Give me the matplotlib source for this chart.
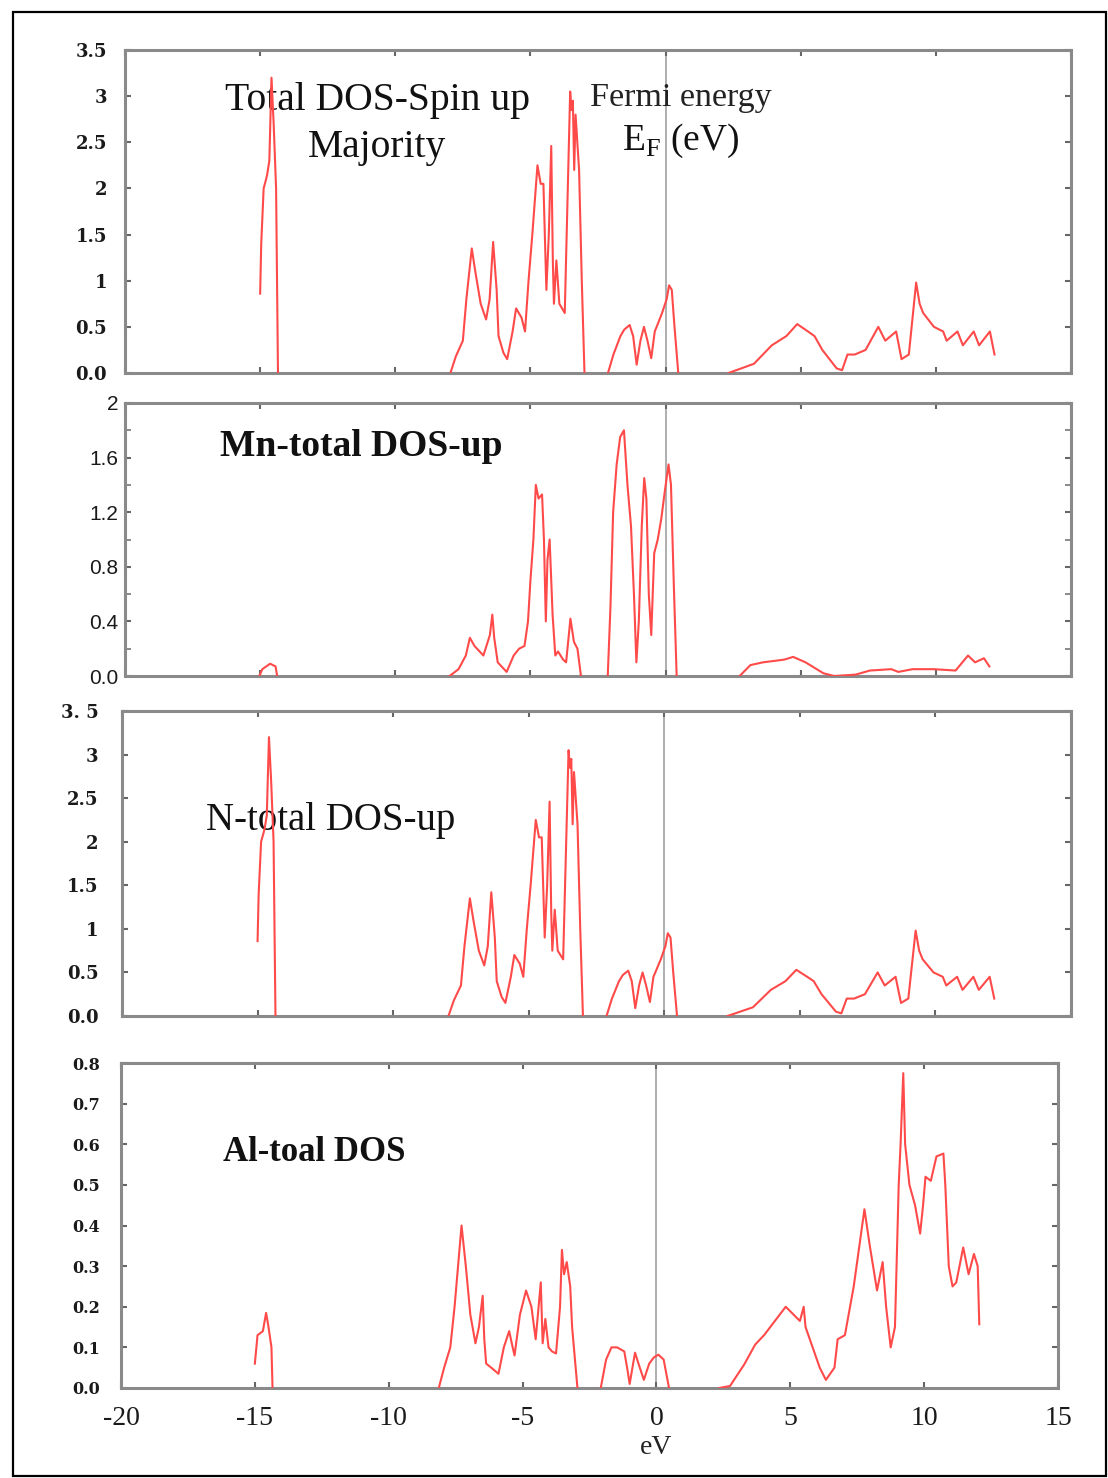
import matplotlib
matplotlib.use('Agg')
import matplotlib.pyplot as plt
from matplotlib.patches import Rectangle
from matplotlib.ticker import MultipleLocator

nan = float('nan')

# ---------------- data (energy in eV, DOS) ----------------
total_energy = [-15.0, -14.96, -14.87, -14.78, -14.74, -14.66, -14.58, -14.5, -14.41, -14.34, nan,
                -7.96, -7.76, -7.5, -7.37, -7.17, -7.04, -6.84, -6.64, -6.51, -6.38,
                -6.25, -6.18, -6.0, -5.86, -5.66, -5.53, -5.33, -5.2, -5.07, -4.93,
                -4.74, -4.62, -4.52, -4.41, -4.32, -4.23, -4.17, -4.13, -4.04, -3.93,
                -3.73, -3.53, -3.48, -3.43, -3.38, -3.33, -3.2, -3.1, -3.0, nan,
                -2.13, -1.93, -1.67, -1.53, -1.33, -1.2, -1.07, -0.93, -0.8, -0.67,
                -0.53, -0.4, -0.33, -0.13, 0.04, 0.13, 0.23, 0.33, 0.47, nan,
                2.33, 3.27, 3.93, 4.47, 4.87, 5.27, 5.51, 5.8, 6.33, 6.53,
                6.73, 7.0, 7.4, 7.87, 8.13, 8.53, 8.73, 9.0, 9.27, 9.4,
                9.53, 9.93, 10.27, 10.4, 10.8, 11.0, 11.4, 11.6, 12.0, 12.17]
total_dos = [0.86, 1.4, 2.0, 2.1, 2.15, 2.3, 3.2, 2.7, 2.0, 0.0, nan,
             0.0, 0.18, 0.35, 0.8, 1.35, 1.1, 0.75, 0.58, 0.8, 1.42,
             0.9, 0.4, 0.22, 0.15, 0.45, 0.7, 0.6, 0.45, 1.0, 1.5,
             2.25, 2.05, 2.05, 0.9, 1.5, 2.46, 1.2, 0.75, 1.22, 0.75,
             0.65, 3.05, 2.85, 2.95, 2.2, 2.8, 2.2, 1.0, 0.0, nan,
             0.0, 0.2, 0.4, 0.47, 0.52, 0.4, 0.09, 0.35, 0.5, 0.35,
             0.16, 0.45, 0.5, 0.65, 0.8, 0.95, 0.9, 0.5, 0.0, nan,
             0.0, 0.1, 0.3, 0.4, 0.53, 0.45, 0.4, 0.25, 0.05, 0.03,
             0.2, 0.2, 0.25, 0.5, 0.35, 0.45, 0.15, 0.2, 0.98, 0.75,
             0.65, 0.5, 0.45, 0.35, 0.45, 0.3, 0.45, 0.3, 0.45, 0.2]

mn_energy = [-15.03, -14.92, -14.63, -14.43, -14.37, nan,
             -7.99, -7.66, -7.39, -7.24, -7.07, -6.74, -6.5, -6.41, -6.34, -6.21,
             -5.88, -5.62, -5.42, -5.22, -5.09, -5.0, -4.89, -4.8, -4.7, -4.57,
             -4.5, -4.43, -4.37, -4.29, -4.18, -4.08, -3.98, -3.79, -3.68, -3.52,
             -3.39, -3.26, -3.13, nan,
             -2.14, -2.04, -1.94, -1.81, -1.68, -1.54, -1.41, -1.28, -1.17, -1.08,
             -0.99, -0.88, -0.79, -0.71, -0.62, -0.53, -0.42, -0.29, -0.16, -0.03,
             0.11, 0.2, 0.3, 0.41, nan,
             2.74, 3.14, 3.6, 4.39, 4.72, 5.18, 5.84, 6.24, 7.03, 7.56,
             8.35, 8.61, 9.14, 9.93, 10.73, 11.19, 11.45, 11.78, 11.98]
mn_dos = [0.0, 0.05, 0.09, 0.07, 0.0, nan,
          0.0, 0.05, 0.15, 0.28, 0.22, 0.15, 0.3, 0.45, 0.28, 0.1,
          0.03, 0.15, 0.2, 0.22, 0.4, 0.7, 1.0, 1.4, 1.3, 1.33,
          1.0, 0.4, 0.85, 1.0, 0.45, 0.15, 0.18, 0.12, 0.1, 0.42,
          0.25, 0.2, 0.0, nan,
          0.0, 0.5, 1.2, 1.55, 1.75, 1.8, 1.4, 1.1, 0.6, 0.1,
          0.4, 1.1, 1.45, 1.3, 0.6, 0.3, 0.9, 1.0, 1.15, 1.35,
          1.55, 1.4, 0.7, 0.0, nan,
          0.0, 0.08, 0.1, 0.12, 0.14, 0.1, 0.02, 0.0, 0.01, 0.04,
          0.05, 0.03, 0.05, 0.05, 0.04, 0.15, 0.1, 0.13, 0.07]

n_energy = [-15.0, -14.96, -14.87, -14.78, -14.74, -14.66, -14.58, -14.5, -14.41, -14.34, nan,
            -7.96, -7.76, -7.5, -7.37, -7.17, -7.04, -6.84, -6.64, -6.51, -6.38,
            -6.25, -6.18, -6.0, -5.86, -5.66, -5.53, -5.33, -5.2, -5.07, -4.93,
            -4.74, -4.62, -4.52, -4.41, -4.32, -4.23, -4.17, -4.13, -4.04, -3.93,
            -3.73, -3.53, -3.48, -3.43, -3.38, -3.33, -3.2, -3.1, -3.0, nan,
            -2.13, -1.93, -1.67, -1.53, -1.33, -1.2, -1.07, -0.93, -0.8, -0.67,
            -0.53, -0.4, -0.33, -0.13, 0.04, 0.13, 0.23, 0.33, 0.47, nan,
            2.33, 3.27, 3.93, 4.47, 4.87, 5.27, 5.51, 5.8, 6.33, 6.53,
            6.73, 7.0, 7.4, 7.87, 8.13, 8.53, 8.73, 9.0, 9.27, 9.4,
            9.53, 9.93, 10.27, 10.4, 10.8, 11.0, 11.4, 11.6, 12.0, 12.17]
n_dos = [0.86, 1.4, 2.0, 2.1, 2.15, 2.3, 3.2, 2.7, 2.0, 0.0, nan,
         0.0, 0.18, 0.35, 0.8, 1.35, 1.1, 0.75, 0.58, 0.8, 1.42,
         0.9, 0.4, 0.22, 0.15, 0.45, 0.7, 0.6, 0.45, 1.0, 1.5,
         2.25, 2.05, 2.05, 0.9, 1.5, 2.46, 1.2, 0.75, 1.22, 0.75,
         0.65, 3.05, 2.85, 2.95, 2.2, 2.8, 2.2, 1.0, 0.0, nan,
         0.0, 0.2, 0.4, 0.47, 0.52, 0.4, 0.09, 0.35, 0.5, 0.35,
         0.16, 0.45, 0.5, 0.65, 0.8, 0.95, 0.9, 0.5, 0.0, nan,
         0.0, 0.1, 0.3, 0.4, 0.53, 0.45, 0.4, 0.25, 0.05, 0.03,
         0.2, 0.2, 0.25, 0.5, 0.35, 0.45, 0.15, 0.2, 0.98, 0.75,
         0.65, 0.5, 0.45, 0.35, 0.45, 0.3, 0.45, 0.3, 0.45, 0.2]

al_energy = [-15.0, -14.9, -14.7, -14.58, -14.49, -14.38, -14.34, nan,
             -8.13, -7.93, -7.7, -7.54, -7.28, -7.12, -6.95, -6.76, -6.63, -6.49,
             -6.43, -6.36, -6.17, -5.9, -5.7, -5.5, -5.37, -5.3, -5.1, -4.87,
             -4.67, -4.51, -4.32, -4.25, -4.15, -4.03, -3.9, -3.75, -3.6, -3.53,
             -3.45, -3.35, -3.22, -3.15, -2.95, nan,
             -2.08, -1.88, -1.68, -1.47, -1.2, -1.07, -1.0, -0.8, -0.67, -0.47,
             -0.27, -0.1, 0.07, 0.27, 0.47, nan,
             2.35, 2.75, 3.28, 3.69, 4.02, 4.83, 5.36, 5.5, 5.57, 6.1,
             6.33, 6.65, 6.77, 7.04, 7.37, 7.77, 7.97, 8.24, 8.45, 8.58,
             8.75, 8.91, 9.05, 9.12, 9.22, 9.29, 9.45, 9.66, 9.85, 9.96,
             10.05, 10.25, 10.46, 10.72, 10.79, 10.92, 11.06, 11.2, 11.46, 11.66,
             11.86, 12.0, 12.06]
al_dos = [0.06, 0.13, 0.14, 0.185, 0.15, 0.1, 0.0, nan,
          0.0, 0.05, 0.1, 0.2, 0.4, 0.3, 0.18, 0.11, 0.15, 0.227,
          0.12, 0.06, 0.05, 0.035, 0.1, 0.14, 0.1, 0.08, 0.18, 0.24,
          0.2, 0.12, 0.26, 0.11, 0.17, 0.1, 0.09, 0.085, 0.2, 0.34,
          0.28, 0.31, 0.25, 0.15, 0.0, nan,
          0.0, 0.07, 0.1, 0.1, 0.09, 0.04, 0.01, 0.087, 0.06, 0.02,
          0.06, 0.075, 0.082, 0.07, 0.0, nan,
          0.0, 0.005, 0.058, 0.107, 0.13, 0.2, 0.165, 0.2, 0.15, 0.05,
          0.02, 0.05, 0.12, 0.13, 0.25, 0.44, 0.35, 0.24, 0.31, 0.2,
          0.1, 0.15, 0.5, 0.6, 0.775, 0.6, 0.5, 0.45, 0.38, 0.45,
          0.52, 0.51, 0.57, 0.577, 0.5, 0.3, 0.25, 0.26, 0.346, 0.28,
          0.33, 0.3, 0.157]

x_ticks = [-20, -15, -10, -5, 0, 5, 10, 15]
y1_ticks = [0, 0.5, 1, 1.5, 2, 2.5, 3, 3.5]
y1_labels = ['0.0', '0.5', '1', '1.5', '2', '2.5', '3', '3.5']
y2_ticks = [0, 0.4, 0.8, 1.2, 1.6, 2.0]
y2_labels = ['0.0', '0.4', '0.8', '1.2', '1.6', '2']
y3_labels = ['0.0', '0.5', '1', '1.5', '2', '2.5', '3', '3. 5']
y4_ticks = [0, 0.1, 0.2, 0.3, 0.4, 0.5, 0.6, 0.7, 0.8]
y4_labels = ['0.0', '0.1', '0.2', '0.3', '0.4', '0.5', '0.6', '0.7', '0.8']

# ---------------- figure ----------------
W, H = 1108, 1478
fig = plt.figure(figsize=(W / 100, H / 100), dpi=100)
fig.patch.set_facecolor('white')

def px_axes(l, t, r, b):
    return fig.add_axes([l / W, 1 - b / H, (r - l) / W, (b - t) / H])

RED = '#ff4a4a'
SPINE = '#8a8a8a'
FERMI = '#a8a8a8'
SERIF = ['Liberation Serif', 'DejaVu Serif']

def style(ax, ymax, yticks, ylabels, yfont, ysize, ypad, yweight='normal', xlabels=False):
    ax.set_xlim(-20, 15)
    ax.set_ylim(0, ymax)
    for s in ax.spines.values():
        s.set_color(SPINE)
        s.set_linewidth(2.2)
    ax.axvline(0, color=FERMI, lw=1.3, zorder=1)
    ax.set_xticks(x_ticks)
    ax.set_yticks(yticks)
    ax.set_yticklabels(ylabels, fontfamily=yfont, fontsize=ysize, color='#1a1a1a',
                       fontweight=yweight)
    ax.tick_params(axis='both', which='both', direction='in', color='#666666',
                   top=True, right=True, length=4, width=1.5)
    ax.tick_params(axis='y', pad=ypad)
    if xlabels:
        ax.set_xticklabels([str(v) for v in x_ticks], fontfamily=SERIF, fontsize=20,
                           color='#1a1a1a')
        ax.tick_params(axis='x', pad=13)
    else:
        ax.set_xticklabels([])

# Panel 1: Total DOS
ax1 = px_axes(125, 50, 1071, 373)
ax1.plot(total_energy, total_dos, color=RED, lw=1.5, zorder=3)
style(ax1, 3.5, y1_ticks, y1_labels, 'DejaVu Serif', 13, 13, 'semibold')
ax1.text(-10.67, 2.95, 'Total DOS-Spin up', ha='center', va='center',
         fontfamily=SERIF, fontsize=28.5, color='#111111', zorder=2)
ax1.text(-10.67, 2.44, 'Majority', ha='center', va='center',
         fontfamily=SERIF, fontsize=28.5, color='#111111', zorder=2)
ax1.text(0.55, 2.98, 'Fermi energy', ha='center', va='center',
         fontfamily=SERIF, fontsize=24.5, color='#222222', zorder=2)
ax1.text(0.55, 2.52, r'E$_\mathregular{F}$ (eV)', ha='center', va='center',
         fontfamily=SERIF, fontsize=27, color='#111111', zorder=2)

# Panel 2: Mn
ax2 = px_axes(125, 403, 1071, 676)
ax2.plot(mn_energy, mn_dos, color=RED, lw=1.5, zorder=3)
style(ax2, 2.0, y2_ticks, y2_labels, ['Liberation Sans', 'DejaVu Sans'], 15, 5)
ax2.yaxis.set_minor_locator(MultipleLocator(0.2))
ax2.tick_params(axis='y', which='minor', direction='in', length=4, width=1.2,
                color='#777777', right=True)
ax2.text(-11.26, 1.68, 'Mn-total DOS-up', ha='center', va='center',
         fontfamily=SERIF, fontsize=27, fontweight='bold', color='#111111', zorder=2)

# Panel 3: N
ax3 = px_axes(122, 711, 1071, 1016)
ax3.plot(n_energy, n_dos, color=RED, lw=1.5, zorder=3)
style(ax3, 3.5, y1_ticks, y3_labels, 'DejaVu Serif', 13, 17, 'semibold')
ax3.text(-12.3, 2.24, 'N-total DOS-up', ha='center', va='center',
         fontfamily=SERIF, fontsize=28, color='#111111', zorder=2)

# Panel 4: Al
ax4 = px_axes(121, 1063, 1058, 1388)
ax4.plot(al_energy, al_dos, color=RED, lw=1.5, zorder=3)
style(ax4, 0.8, y4_ticks, y4_labels, 'DejaVu Serif', 11.5, 15, 'semibold', xlabels=True)
ax4.text(-12.8, 0.58, 'Al-toal DOS', ha='center', va='center',
         fontfamily=SERIF, fontsize=25, fontweight='bold', color='#111111', zorder=2)
ax4.set_xlabel('eV', fontfamily=SERIF, fontsize=20, color='#222222')
ax4.xaxis.set_label_coords(20 / 35, -0.145)

# outer frame
fig.patches.append(Rectangle((13 / W, 2 / H), (1106 - 13) / W, (1476 - 12) / H,
                             transform=fig.transFigure, fill=False,
                             edgecolor='black', linewidth=1.6))

fig.savefig('out.png', dpi=100, facecolor='white')
